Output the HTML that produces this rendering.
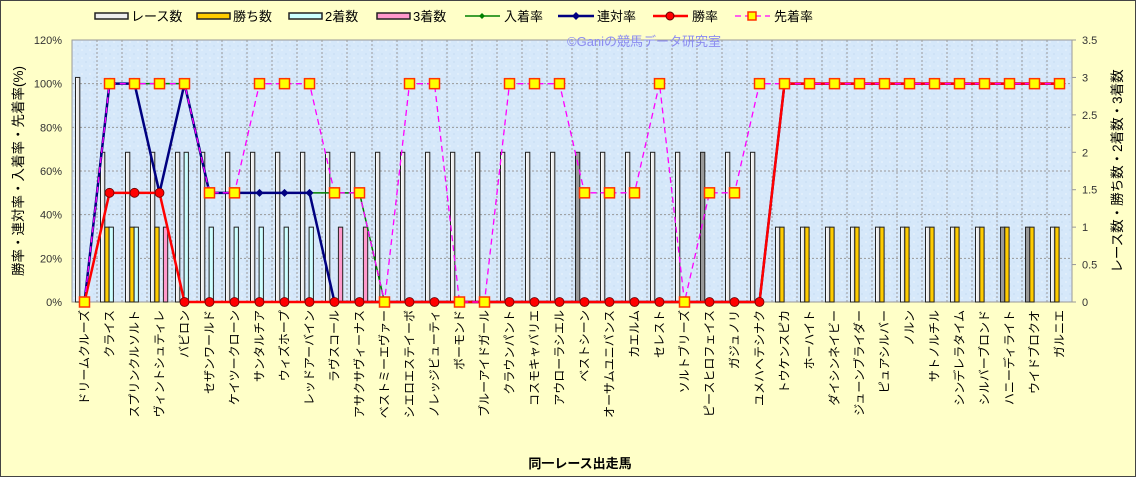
<!DOCTYPE html>
<html><head><meta charset="utf-8"><style>
html,body{margin:0;padding:0;background:#FFFFC8;}
svg{display:block;font-family:"Liberation Sans","Noto Sans CJK JP",sans-serif;}
</style></head><body>
<svg id="c" width="1136" height="477" xmlns="http://www.w3.org/2000/svg">
<defs>
<pattern id="bg" width="8" height="8" patternUnits="userSpaceOnUse"><rect width="8" height="8" fill="#D6E8FA"/><circle cx="2" cy="2" r="1" fill="#E4F0FC"/><circle cx="6" cy="6" r="1" fill="#CCE0F6"/></pattern>
<linearGradient id="gr" x1="0" x2="1"><stop offset="0" stop-color="#fff"/><stop offset="1" stop-color="#ddd"/></linearGradient>
</defs>
<rect x="0.5" y="0.5" width="1135" height="476" fill="#FFFFC8" stroke="#444"/>
<rect x="72" y="40" width="1000" height="262" fill="url(#bg)"/>
<g id="g"></g>
<text x="567" y="46" font-size="13" fill="#8C8CF0">©Ganiの競馬データ研究室</text>
</svg>
<script>
var names=["ドリームクルーズ","クライス","スプリンクルソルト","ヴィントシュティレ","バビロン","セザンワールド","ケイツークローン","サンタルチア","ウィズホープ","レッドアーバイン","ラヴスコール","アサクサヴィーナス","ベストミーエヴァー","シエロエステイーボ","ノレッジビューティ","ボーモンド","ブルーアイドガール","クラウンパント","コスモキャバリエ","アウローラシエル","ベストシーン","オーサムユニバンス","カエルム","セレスト","ソルトブリーズ","ピースヒロフェイス","ガジュノリ","ユメハヘテシナク","トウケンスピカ","ホーハイト","ダイシンネイビー","ジューンブライダー","ピュアシルバー","ノルン","サトノルチル","シンデレラタイム","シルバーブロンド","ハニーディライト","ウイドブロクオ","ガルニエ"];
var race=[],win=[],sec=[],thr=[],sen=[],ren=[],sho=[],nyu=[];
for(var i=0;i<40;i++){race.push(i==0?3:(i<28?2:1));win.push(i>=28||(i>=1&&i<=3)?1:0);sec.push(0);thr.push(0);}
sec[1]=1;sec[2]=1;sec[4]=2;[5,6,7,8,9].forEach(function(i){sec[i]=1});thr[3]=1;thr[10]=1;thr[11]=1;
sen=[0,100,100,100,100,50,50,100,100,100,50,50,0,100,100,0,0,100,100,100,50,50,50,100,0,50,50,100];
for(i=28;i<40;i++)sen.push(100);
ren=[0,100,100,50,100,50,50,50,50,50,0];for(i=11;i<28;i++)ren.push(0);for(i=28;i<40;i++)ren.push(100);
for(i=0;i<40;i++){sho.push(i>=28?100:(i>=1&&i<=3?50:0));}
nyu=[0,100,100,100,100,50,50,50,50,50,50,50];for(i=12;i<28;i++)nyu.push(0);for(i=28;i<40;i++)nyu.push(100);
var s="",X=function(i){return 84.5+25*i},YP=function(p){return 302-p*262/120},YR=function(v){return 302-v*262/3.5};
for(i=1;i<6;i++){var y=YP(i*20);s+='<line x1="72" x2="1072" y1="'+y+'" y2="'+y+'" stroke="#999" stroke-dasharray="2,2"/>';}
for(i=1;i<40;i++){var x=72+25*i;s+='<line x1="'+x+'" x2="'+x+'" y1="40" y2="302" stroke="#999" stroke-dasharray="2,2"/>';}
s+='<rect x="72" y="40" width="1000" height="262" fill="none" stroke="#999"/>';
for(i=0;i<40;i++){var c=X(i);
 function bar(o,v,f){if(v>0)s+='<rect x="'+(c+o)+'" y="'+YR(v)+'" width="4.3" height="'+(302-YR(v))+'" fill="'+f+'" stroke="#222" stroke-width="1"/>';}
 bar(-9,race[i],(i==20||i==25||i==37||i==38)?"#999":"url(#gr)");bar(-4.7,win[i],"#FFCC00");bar(-0.4,sec[i],"#CCFFFF");bar(3.9,thr[i],"#FF99CC");}
function line(a,col,w,dash){var p=a.map(function(v,i){return X(i)+","+YP(v)}).join(" ");s+='<polyline points="'+p+'" fill="none" stroke="'+col+'" stroke-width="'+w+'"'+(dash?' stroke-dasharray="'+dash+'"':'')+'/>';}
line(nyu,"#008000",1.5);nyu.forEach(function(v,i){s+='<path d="M'+X(i)+' '+(YP(v)-3)+'l3 3l-3 3l-3-3z" fill="#008000"/>'});
line(ren,"#000080",2.5);ren.forEach(function(v,i){s+='<path d="M'+X(i)+' '+(YP(v)-4)+'l4 4l-4 4l-4-4z" fill="#000080"/>'});
line(sho,"#FF0000",2.5);sho.forEach(function(v,i){s+='<circle cx="'+X(i)+'" cy="'+YP(v)+'" r="4.5" fill="#FF0000" stroke="#600" stroke-width="0.8"/>'});
line(sen,"#FF00FF",1.3,"6,4");sen.forEach(function(v,i){s+='<rect x="'+(X(i)-5)+'" y="'+(YP(v)-5)+'" width="10" height="10" fill="#FFFF00" stroke="#FF3300" stroke-width="1.5"/>'});
for(i=0;i<=6;i++)s+='<text x="62" y="'+(YP(i*20)+4)+'" font-size="11" fill="#333" text-anchor="end">'+(i*20)+'%</text>';
for(i=0;i<=7;i++){var v=i*0.5;s+='<line x1="1072" x2="1076" y1="'+YR(v)+'" y2="'+YR(v)+'" stroke="#999"/><text x="1082" y="'+(YR(v)+4)+'" font-size="11" fill="#333">'+v+'</text>';}
names.forEach(function(n,i){s+='<text transform="translate('+(X(i)+4)+',310) rotate(-90)" font-size="12" text-anchor="end" fill="#000">'+n+'</text>';});
s+='<text transform="translate(23,171) rotate(-90)" font-size="13.5" text-anchor="middle" fill="#000">勝率・連対率・入着率・先着率(%)</text>';
s+='<text transform="translate(1122,171) rotate(-90)" font-size="13.5" text-anchor="middle" fill="#000">レース数・勝ち数・2着数・3着数</text>';
s+='<text x="580" y="468" font-size="13" font-weight="bold" text-anchor="middle">同一レース出走馬</text>';
var L=[[95,"レース数","#eee"],[197,"勝ち数","#FFCC00"],[289,"2着数","#CCFFFF"],[377,"3着数","#FF99CC"]];
L.forEach(function(l){s+='<rect x="'+l[0]+'" y="13" width="33" height="6" fill="'+l[2]+'" stroke="#222" stroke-width="1.5"/><text x="'+(l[0]+36)+'" y="21" font-size="13">'+l[1]+'</text>';});
s+='<line x1="465" x2="500" y1="16" y2="16" stroke="#008000" stroke-width="1.5"/><path d="M482 13l3 3l-3 3l-3-3z" fill="#008000"/><text x="504" y="21" font-size="13">入着率</text>';
s+='<line x1="558" x2="594" y1="16" y2="16" stroke="#000080" stroke-width="2.5"/><path d="M576 12l4 4l-4 4l-4-4z" fill="#000080"/><text x="597" y="21" font-size="13">連対率</text>';
s+='<line x1="653" x2="688" y1="16" y2="16" stroke="#FF0000" stroke-width="2.5"/><circle cx="670" cy="16" r="4" fill="#FF0000" stroke="#600"/><text x="692" y="21" font-size="13">勝率</text>';
s+='<line x1="735" x2="770" y1="16" y2="16" stroke="#FF00FF" stroke-width="1.3" stroke-dasharray="6,4"/><rect x="748" y="12" width="8" height="8" fill="#FFFF00" stroke="#FF3300" stroke-width="1.5"/><text x="774" y="21" font-size="13">先着率</text>';
document.getElementById("g").innerHTML=s;
</script>
</body></html>
